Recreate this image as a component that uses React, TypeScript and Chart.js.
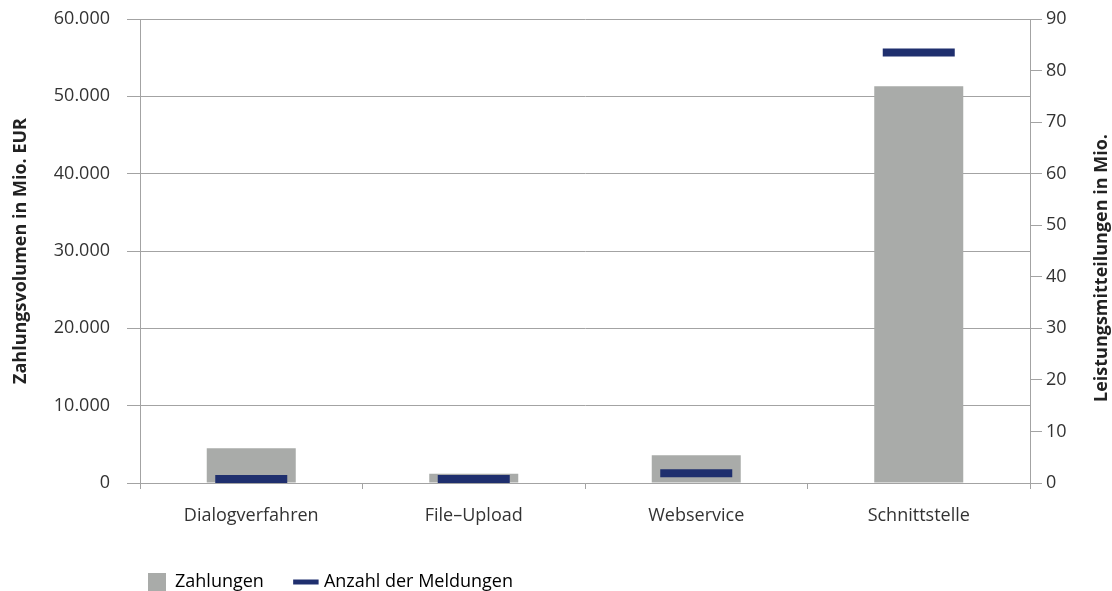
import React, { useEffect, useRef } from 'react';
import { Chart, registerables } from 'chart.js';

Chart.register(...registerables);

const categories = ['Dialogverfahren', 'File–Upload', 'Webservice', 'Schnittstelle'];
const zahlungen = [4500, 1200, 3600, 51300];
const meldungen = [0.8, 0.8, 1.9, 83.5];
const leftMax = 60000;
const leftStep = 10000;
const rightMax = 90;
const rightStep = 10;
const seriesNames = ['Zahlungen', 'Anzahl der Meldungen'];
const leftTitle = 'Zahlungsvolumen in Mio. EUR';
const rightTitle = 'Leistungsmitteilungen in Mio.';

const FONT = "'Open Sans', sans-serif";
const barColor = '#a9aba9';
const navy = '#1f2f6e';
const gridColor = '#a3a3a3';
const tickColor = '#333333';
const titleColor = '#222222';
const FS = 18;

const fmt = (v: number) => String(v).replace(/\B(?=(\d{3})+(?!\d))/g, '.');

const rightTitlePlugin = {
  id: 'rightTitle',
  afterDraw(chart: any) {
    const ctx = chart.ctx;
    const s = chart.scales.y1;
    ctx.save();
    ctx.translate(s.right - 10, (chart.chartArea.top + chart.chartArea.bottom) / 2 + 17);
    ctx.rotate(-Math.PI / 2);
    ctx.font = `bold ${FS}px ${FONT}`;
    ctx.fillStyle = titleColor;
    ctx.textAlign = 'center';
    ctx.textBaseline = 'middle';
    ctx.fillText(rightTitle, 0, 0);
    ctx.restore();
  },
};

const LEG_PAD = 33;

const legendShiftPlugin = {
  id: 'legendShift',
  afterLayout(chart: any) {
    const lg = chart.legend;
    if (!lg) return;
    lg.left = 148 - LEG_PAD;
    lg.right = 1112;
    lg.width = lg.right - lg.left;
    lg.top = 582 - LEG_PAD - FS / 2;
    lg.bottom = 591;
    lg.height = lg.bottom - lg.top;
  },
};

const noVPad = (s: any, w: number) => {
  s.width = w;
  s.paddingTop = 0;
  s.paddingBottom = 0;
};

export default function App() {
  const ref = useRef<HTMLCanvasElement | null>(null);

  useEffect(() => {
    if (!ref.current) return;
    const chart = new Chart(ref.current, {
      data: {
        labels: categories,
        datasets: [
          {
            type: 'bar',
            label: seriesNames[0],
            data: zahlungen,
            yAxisID: 'y',
            backgroundColor: barColor,
            barPercentage: 0.4,
            categoryPercentage: 1,
            order: 1,
          },
          {
            type: 'line',
            label: seriesNames[1],
            data: meldungen,
            yAxisID: 'y1',
            showLine: false,
            pointStyle: 'line',
            pointRadius: 36,
            pointHoverRadius: 36,
            pointBorderWidth: 8,
            pointBorderColor: navy,
            pointBackgroundColor: navy,
            borderColor: navy,
            order: 0,
          },
        ],
      } as any,
      options: {
        responsive: false,
        animation: false,
        layout: { autoPadding: false, padding: { top: 19, left: 0, right: 0, bottom: 0 } },
        plugins: {
          tooltip: { enabled: false },
          legend: {
            position: 'bottom',
            align: 'start',
            maxHeight: 30,
            labels: {
              usePointStyle: true,
              padding: LEG_PAD,
              color: tickColor,
              font: { family: FONT, size: FS },
              generateLabels: () => [
                {
                  text: seriesNames[0],
                  fillStyle: barColor,
                  strokeStyle: barColor,
                  lineWidth: 0,
                  pointStyle: 'rect',
                  datasetIndex: 0,
                  hidden: false,
                },
                {
                  text: seriesNames[1],
                  fillStyle: navy,
                  strokeStyle: navy,
                  lineWidth: 5,
                  pointStyle: 'line',
                  datasetIndex: 1,
                  hidden: false,
                },
              ],
            },
          },
        },
        scales: {
          x: {
            grid: {
              display: true,
              drawOnChartArea: false,
              drawTicks: true,
              tickLength: 6,
              color: gridColor,
              offset: true,
            },
            border: { display: true, color: gridColor },
            ticks: { padding: 16, color: tickColor, font: { family: FONT, size: FS } },
            afterFit: (s: any) => {
              s.height = 591 - 483 - 30;
            },
          },
          y: {
            position: 'left',
            min: 0,
            max: leftMax,
            ticks: {
              stepSize: leftStep,
              padding: 17,
              color: tickColor,
              font: { family: FONT, size: FS },
              callback: (v: any) => fmt(Number(v)),
            },
            grid: { color: gridColor, tickLength: 13 },
            border: { display: true, color: gridColor },
            title: {
              display: true,
              text: leftTitle,
              color: titleColor,
              font: { family: FONT, size: FS, weight: 'bold' },
              padding: { top: 10, bottom: 0 },
            },
            afterFit: (s: any) => noVPad(s, 140),
          },
          y1: {
            position: 'right',
            min: 0,
            max: rightMax,
            ticks: {
              stepSize: rightStep,
              padding: 4,
              color: tickColor,
              font: { family: FONT, size: FS },
            },
            grid: { drawOnChartArea: false, color: gridColor, tickLength: 12 },
            border: { display: true, color: gridColor },
            afterFit: (s: any) => noVPad(s, 82),
          },
        },
      } as any,
      plugins: [rightTitlePlugin, legendShiftPlugin],
    });
    return () => chart.destroy();
  }, []);

  return (
    <div style={{ position: 'fixed', left: 0, top: 0, width: 1112, height: 591, background: '#fff' }}>
      <canvas ref={ref} width={1112} height={591} style={{ display: 'block' }} />
    </div>
  );
}
